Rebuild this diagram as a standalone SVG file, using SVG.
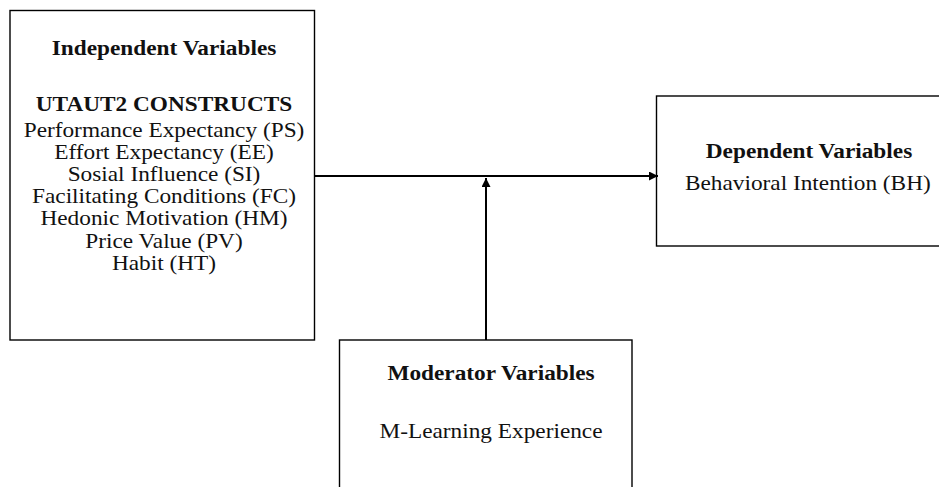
<svg xmlns="http://www.w3.org/2000/svg" width="939" height="487" viewBox="0 0 939 487">
<style>
.box{fill:#fff;stroke:#000;stroke-width:1.4}
.t{font-family:"Liberation Serif","Times New Roman",serif;font-size:20px;fill:#111;text-anchor:middle}
.b{font-weight:bold}
.c{stroke:#000;stroke-width:2;fill:none}
</style>
<defs>
<marker id="ah" viewBox="0 0 10 10" refX="10" refY="5" markerWidth="4.5" markerHeight="4.5" orient="auto" markerUnits="strokeWidth">
<path d="M0,0 L10,5 L0,10 z" fill="#000"/>
</marker>
</defs>
<rect width="939" height="487" fill="#fff"/>
<g id="independent">
<rect class="box" x="10" y="10.5" width="304.5" height="329.5"/>
<g transform="translate(164 0) scale(1.165 1)">
<text class="t b" x="0" y="55">Independent Variables</text>
<text class="t b" x="0" y="111">UTAUT2 CONSTRUCTS</text>
<text class="t" x="0" y="137">Performance Expectancy (PS)</text>
<text class="t" x="0" y="159">Effort Expectancy (EE)</text>
<text class="t" x="0" y="181">Sosial Influence (SI)</text>
<text class="t" x="0" y="203">Facilitating Conditions (FC)</text>
<text class="t" x="0" y="225">Hedonic Motivation (HM)</text>
<text class="t" x="0" y="248">Price Value (PV)</text>
<text class="t" x="0" y="270">Habit (HT)</text>
</g>
</g>
<g id="dependent">
<rect class="box" x="656.5" y="96" width="290" height="150"/>
<g transform="translate(809 0) scale(1.165 1)">
<text class="t b" x="0" y="158">Dependent Variables</text>
<text class="t" x="-1" y="190">Behavioral Intention (BH)</text>
</g>
</g>
<g id="moderator">
<rect class="box" x="339.5" y="340" width="292.5" height="160"/>
<g transform="translate(491 0) scale(1.165 1)">
<text class="t b" x="0" y="380">Moderator Variables</text>
<text class="t" x="0" y="438">M-Learning Experience</text>
</g>
</g>
<g id="connectors">
<line class="c" x1="315" y1="176" x2="658" y2="176" marker-end="url(#ah)"/>
<line class="c" x1="486" y1="340" x2="486" y2="178" marker-end="url(#ah)"/>
</g>
</svg>
